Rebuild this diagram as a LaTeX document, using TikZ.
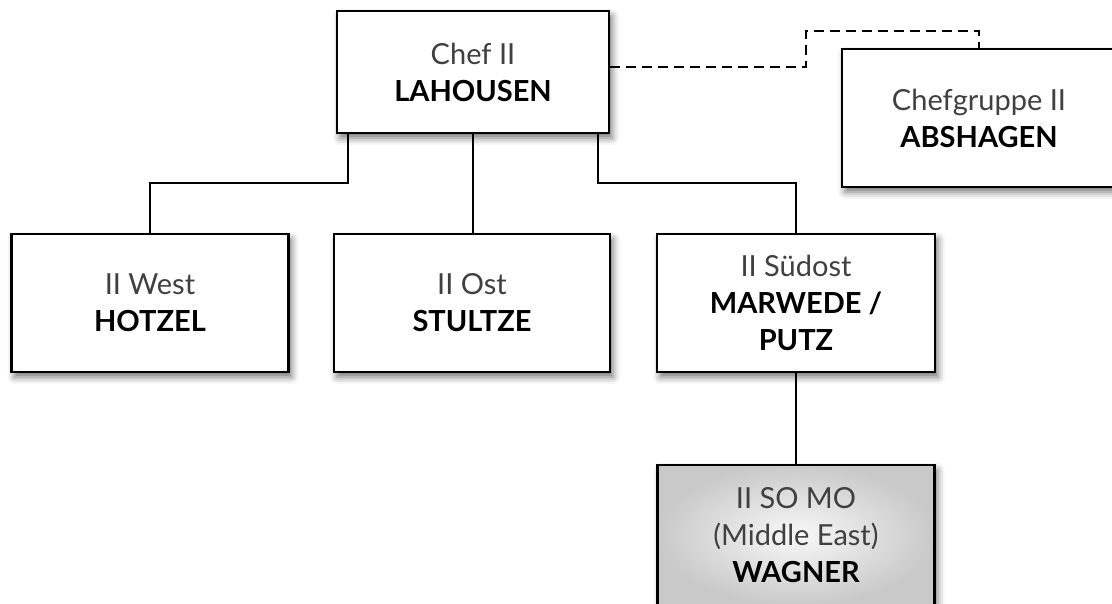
\documentclass[tikz,border=0pt]{standalone}
\usepackage{fontspec}
\setmainfont{Lato}
\usetikzlibrary{shadows.blur}
\definecolor{txtgray}{HTML}{404040}
\tikzset{
  box/.style={draw=black, line width=2.2pt, fill=white, inner sep=0pt, align=center,
    font=\fontsize{29}{37}\selectfont, text=txtgray,
    blur shadow={shadow xshift=3pt, shadow yshift=-5pt, shadow blur radius=7pt, shadow opacity=55}},
  graybox/.style={box, inner color=white!95!gray, outer color=gray!42},
  conn/.style={draw=black, line width=2pt},
  dconn/.style={conn, dash pattern=on 10pt off 6pt},
}
\newcommand{\nm}[1]{{\bfseries\color{black}#1}}
\begin{document}
\begin{tikzpicture}[x=1pt,y=-1pt]
\useasboundingbox (0,0) rectangle (1112,603);
\node[box, minimum width=272pt, minimum height=122pt] (lah) at (473,72) {Chef II\\\nm{LAHOUSEN}};
\node[box, minimum width=274pt, minimum height=138pt] (abs) at (979,118) {Chefgruppe II\\\nm{ABSHAGEN}};
\node[box, minimum width=277pt, minimum height=138pt] (hot) at (150,303) {II West\\\nm{HOTZEL}};
\node[box, minimum width=276pt, minimum height=138pt] (stu) at (472,303) {II Ost\\\nm{STULTZE}};
\node[box, minimum width=278pt, minimum height=138pt] (mar) at (796,303) {II Südost\\\nm{MARWEDE /}\\\nm{PUTZ}};
\node[graybox, minimum width=277pt, minimum height=140pt] (wag) at (796,535) {II SO MO\\(Middle East)\\\nm{WAGNER}};
\coordinate (d1) at (806,67);
\coordinate (d2) at (806,31);
\coordinate (d3) at (979,31);
\draw[dconn] ([yshift=5pt]lah.east) -- (d1) -- (d2) -- (d3) -- (abs.north);
\draw[conn] ([xshift=-125pt]lah.south) -- ++(0,49) -| (hot.north);
\draw[conn] (lah.south) -- (stu.north -| lah.south);
\draw[conn] ([xshift=125pt]lah.south) -- ++(0,49) -| (mar.north);
\draw[conn] (mar.south) -- (wag.north);
\end{tikzpicture}
\end{document}
